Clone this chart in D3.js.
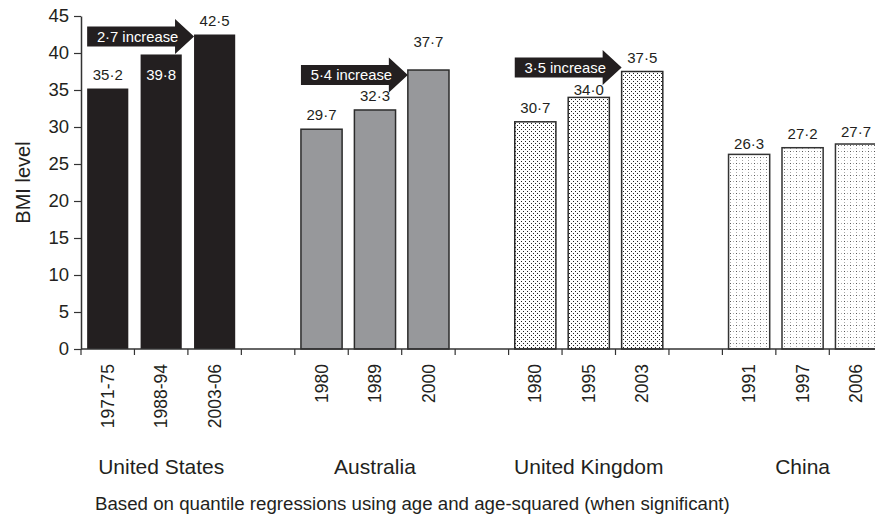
<!DOCTYPE html>
<html>
<head>
<meta charset="utf-8">
<script src="https://cdn.jsdelivr.net/npm/d3@7"></script>
<style>
  body { margin: 0; background: #fff; }
  svg { display: block; font-family: "Liberation Sans", Arial, sans-serif; }
</style>
</head>
<body>
<svg id="chart" width="875" height="516"></svg>
<script>

// Chart data
const countries = ["United States", "Australia", "United Kingdom", "China"];
const periods = [
    ["1971-75", "1988-94", "2003-06"],
    ["1980", "1989", "2000"],
    ["1980", "1995", "2003"],
    ["1991", "1997", "2006"]
];
const bmiLevels = [
    [35.2, 39.8, 42.5],
    [29.7, 32.3, 37.7],
    [30.7, 34.0, 37.5],
    [26.3, 27.2, 27.7]
];
const increases = [2.7, 5.4, 3.5, null];
const yTicks = [0, 5, 10, 15, 20, 25, 30, 35, 40, 45];
const footnote = "Based on quantile regressions using age and age-squared (when significant)";

// Bar fills per country
const fills = ["#231f20", "#97989b", "url(#ukDots)", "url(#cnDots)"];
const strokes = ["none", "#2b2b2b", "#2b2b2b", "#333"];

// Number format with a middle dot
const fmt = v => v.toFixed(1).replace(".", "\u00b7");

const svg = d3.select("#chart");
const ink = "#231f20";

// Dot patterns for the UK and China bars
const defs = svg.append("defs");
const uk = defs.append("pattern")
    .attr("id", "ukDots")
    .attr("patternUnits", "userSpaceOnUse")
    .attr("width", 4).attr("height", 4);
uk.append("rect").attr("width", 4).attr("height", 4).attr("fill", "#fff");
uk.append("rect").attr("x", 1).attr("y", 1).attr("width", 1).attr("height", 1).attr("fill", "#222");
uk.append("rect").attr("x", 3).attr("y", 3).attr("width", 1).attr("height", 1).attr("fill", "#222");

const cn = defs.append("pattern")
    .attr("id", "cnDots")
    .attr("patternUnits", "userSpaceOnUse")
    .attr("width", 6).attr("height", 6);
cn.append("rect").attr("width", 6).attr("height", 6).attr("fill", "#fff");
cn.append("rect").attr("x", 1).attr("y", 1).attr("width", 1).attr("height", 1).attr("fill", "#aaa");
cn.append("rect").attr("x", 4).attr("y", 4).attr("width", 1).attr("height", 1).attr("fill", "#aaa");
cn.append("rect").attr("x", 4).attr("y", 1).attr("width", 1).attr("height", 1).attr("fill", "#555");

// Slots: three bars per country with an empty slot between countries
const slots = [];
countries.forEach((c, i) => {
    periods[i].forEach(p => slots.push(c + "|" + p));
    if (i < countries.length - 1) slots.push("gap" + i);
});

const left = 81, step = 53.45;
const x = d3.scaleBand()
    .domain(slots)
    .range([left, left + slots.length * step])
    .paddingInner(0.23)
    .paddingOuter(0.115);

const y = d3.scaleLinear().domain([0, 45]).range([349, 16]);

// Y axis
const yAxis = svg.append("g")
    .attr("transform", `translate(${left},0)`)
    .call(d3.axisLeft(y).tickValues(yTicks).tickSize(7).tickSizeOuter(0).tickPadding(5));
yAxis.select(".domain").attr("stroke", "#333").attr("stroke-width", 1.5);
yAxis.selectAll(".tick line").attr("stroke", "#333").attr("stroke-width", 1.2);
yAxis.selectAll(".tick text")
    .attr("font-size", 18.5).attr("fill", ink)
    .attr("font-family", "Liberation Sans, Arial, sans-serif");

svg.append("text")
    .attr("transform", `translate(30,${(y(0) + y(45)) / 2}) rotate(-90)`)
    .attr("text-anchor", "middle")
    .attr("font-size", 20)
    .attr("fill", ink)
    .text("BMI level");

// Bars
const bars = [];
countries.forEach((c, i) => {
    periods[i].forEach((p, j) => {
        bars.push({ country: i, idx: j, key: c + "|" + p, period: p, value: bmiLevels[i][j] });
    });
});

svg.append("g").selectAll("rect")
    .data(bars)
    .join("rect")
    .attr("x", d => x(d.key))
    .attr("y", d => y(d.value))
    .attr("width", x.bandwidth())
    .attr("height", d => y(0) - y(d.value))
    .attr("fill", d => fills[d.country])
    .attr("stroke", d => strokes[d.country])
    .attr("stroke-width", 1.5);

// X axis line and ticks at slot boundaries
const xAxis = svg.append("g");
xAxis.append("line")
    .attr("x1", left).attr("x2", x.range()[1])
    .attr("y1", y(0)).attr("y2", y(0))
    .attr("stroke", "#333").attr("stroke-width", 1.5);
xAxis.selectAll("line.tk")
    .data(slots)
    .join("line")
    .attr("class", "tk")
    .attr("x1", d => x(d) - x.step() * x.paddingOuter())
    .attr("x2", d => x(d) - x.step() * x.paddingOuter())
    .attr("y1", y(0)).attr("y2", y(0) + 6)
    .attr("stroke", "#333").attr("stroke-width", 1.2);

// Rotated period labels
svg.append("g").selectAll("text")
    .data(bars)
    .join("text")
    .attr("transform", d => `translate(${x(d.key) + x.bandwidth() / 2},${y(0) + 15}) rotate(-90)`)
    .attr("text-anchor", "end")
    .attr("dy", "0.35em")
    .attr("font-size", 17.5)
    .attr("fill", ink)
    .text(d => d.period);

// Country labels centred under each group
svg.append("g").selectAll("text")
    .data(countries)
    .join("text")
    .attr("x", (c, i) => {
        const a = x(c + "|" + periods[i][0]);
        const b = x(c + "|" + periods[i][2]) + x.bandwidth();
        return (a + b) / 2;
    })
    .attr("y", 474)
    .attr("text-anchor", "middle")
    .attr("font-size", 21)
    .attr("fill", ink)
    .text(c => c);

svg.append("text")
    .attr("x", 95)
    .attr("y", 510)
    .attr("font-size", 18.7)
    .attr("fill", ink)
    .text(footnote);

// Increase arrows, from the first bar to the left edge of the last bar
const arrowDy = [2, 5, -4];
const bodyH = 10, headH = 17.5, headL = 19;
const arrows = increases
    .map((v, i) => ({ v, i }))
    .filter(d => d.v !== null)
    .map(d => {
        const c = countries[d.i];
        const x0 = x(c + "|" + periods[d.i][0]);
        const x1 = x(c + "|" + periods[d.i][2]);
        const yc = y(bmiLevels[d.i][2]) + arrowDy[d.i];
        return { label: fmt(d.v) + " increase", x0, x1, yc };
    });

const ag = svg.append("g");
ag.selectAll("path")
    .data(arrows)
    .join("path")
    .attr("d", d => {
        const p = d3.path();
        p.moveTo(d.x0, d.yc - bodyH);
        p.lineTo(d.x1 - headL, d.yc - bodyH);
        p.lineTo(d.x1 - headL, d.yc - headH);
        p.lineTo(d.x1, d.yc);
        p.lineTo(d.x1 - headL, d.yc + headH);
        p.lineTo(d.x1 - headL, d.yc + bodyH);
        p.lineTo(d.x0, d.yc + bodyH);
        p.closePath();
        return p.toString();
    })
    .attr("fill", ink);
ag.selectAll("text")
    .data(arrows)
    .join("text")
    .attr("x", d => (d.x0 + d.x1) / 2 - 3)
    .attr("y", d => d.yc)
    .attr("dy", "0.35em")
    .attr("text-anchor", "middle")
    .attr("font-size", 14.8)
    .attr("fill", "#fff")
    .text(d => d.label);

// Value labels; a few are moved to clear the arrows
const labelNudge = { "0-1": 25.5, "1-2": -23, "2-1": -2, "3-0": -5, "3-2": -7 };
svg.append("g").selectAll("text")
    .data(bars)
    .join("text")
    .attr("x", d => x(d.key) + x.bandwidth() / 2)
    .attr("y", d => {
        const n = labelNudge[d.country + "-" + d.idx];
        return y(d.value) + (n !== undefined ? n : -9);
    })
    .attr("text-anchor", "middle")
    .attr("font-size", 15)
    .attr("fill", d => (d.country === 0 && d.idx === 1) ? "#fff" : ink)
    .text(d => fmt(d.value));

</script>
</body>
</html>
